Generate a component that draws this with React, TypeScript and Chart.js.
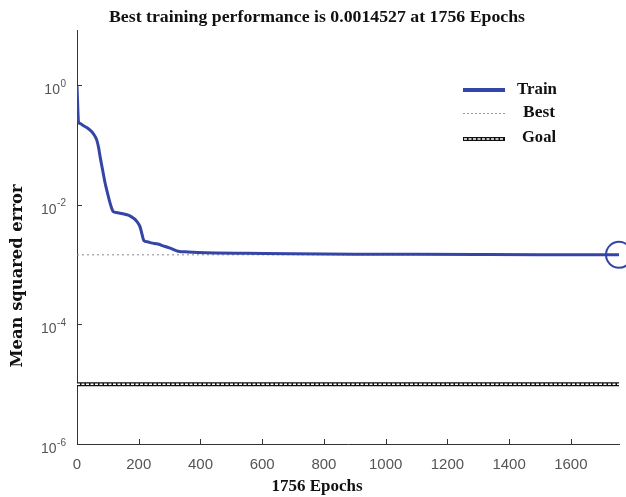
import React, { useEffect, useRef } from "react";
import { Chart, registerables } from "chart.js";

Chart.register(...registerables);

const epochs = [0, 2, 5, 12, 20, 35, 48, 58, 64, 70, 75, 83, 91, 99, 107, 113, 118, 128, 140, 152, 166, 178, 188, 197, 204, 210, 217, 228, 240, 262, 285, 304, 327, 360, 391, 450, 551, 700, 900, 1100, 1300, 1500, 1756];
const trainMse = [1.0, 0.5, 0.24, 0.225, 0.21, 0.19, 0.166, 0.14, 0.12, 0.09, 0.063, 0.038, 0.023, 0.0155, 0.0107, 0.0085, 0.0076, 0.0074, 0.0072, 0.0070, 0.0067, 0.0062, 0.0057, 0.005, 0.0043, 0.0033, 0.0025, 0.0024, 0.0023, 0.0022, 0.002, 0.00186, 0.00167, 0.00162, 0.00159, 0.00156, 0.00154, 0.00151, 0.00149, 0.00148, 0.00147, 0.00146, 0.0014527];
const bestEpoch = 1756;
const bestValue = 0.0014527;
const goalValue = 1e-5;
const xTicks = [0, 200, 400, 600, 800, 1000, 1200, 1400, 1600];
const yTickExponents = [0, -2, -4, -6];
const titleText = "Best training performance is 0.0014527 at 1756 Epochs";
const xTitle = "1756 Epochs";
const yTitle = "Mean squared error";
const legendLabels = ["Train", "Best", "Goal"];

const BLUE = "#3545a6";
const SERIF = '"Liberation Serif", "Times New Roman", serif';

function drawFit(ctx: CanvasRenderingContext2D, text: string, x: number, y: number, w: number, font: string, align: "left" | "center") {
  ctx.save();
  ctx.font = font;
  ctx.fillStyle = "#111";
  ctx.textBaseline = "middle";
  ctx.textAlign = "left";
  const m = ctx.measureText(text).width;
  const s = w / m;
  const left = align === "center" ? x - w / 2 : x;
  ctx.translate(left, y);
  ctx.scale(s, 1);
  ctx.fillText(text, 0, 0);
  ctx.restore();
}

const decorPlugin = {
  id: "decor",
  afterDraw(chart: any) {
    const ctx: CanvasRenderingContext2D = chart.ctx;
    const xs = chart.scales.x;
    const ys = chart.scales.y;
    const area = chart.chartArea;
    ctx.save();
    ctx.strokeStyle = "#333";
    ctx.lineWidth = 1;
    xs.ticks.forEach((t: any) => {
      const px = Math.round(xs.getPixelForValue(t.value)) + 0.5;
      ctx.beginPath();
      ctx.moveTo(px, area.bottom);
      ctx.lineTo(px, area.bottom - 5);
      ctx.stroke();
    });
    ys.ticks.forEach((t: any) => {
      const py = Math.round(ys.getPixelForValue(t.value)) + 0.5;
      ctx.beginPath();
      ctx.moveTo(area.left, py);
      ctx.lineTo(area.left + 5, py);
      ctx.stroke();
    });
    ctx.fillStyle = "#555";
    ctx.textBaseline = "middle";
    yTickExponents.forEach((e) => {
      const py = ys.getPixelForValue(Math.pow(10, e));
      const exp = e === 0 ? "0" : "-" + Math.abs(e);
      ctx.font = '10px "Liberation Sans", Arial, sans-serif';
      const ew = ctx.measureText(exp).width;
      const right = area.left - 11;
      ctx.textAlign = "right";
      ctx.fillText(exp, right, py - 1);
      ctx.font = '14px "Liberation Sans", Arial, sans-serif';
      ctx.fillText("10", right - ew - 0.5, py + 5);
    });
    ctx.restore();

    drawFit(ctx, titleText, 317, 18, 416, "bold 17px " + SERIF, "center");
    drawFit(ctx, xTitle, 317, 487, 91, "bold 17px " + SERIF, "center");
    ctx.save();
    ctx.translate(18, 276);
    ctx.rotate(-Math.PI / 2);
    drawFit(ctx, yTitle, 0, 0, 183, 'bold 16px "DejaVu Serif", serif', "center");
    ctx.restore();

    ctx.save();
    const lx0 = 463, lx1 = 505;
    ctx.strokeStyle = BLUE;
    ctx.lineWidth = 4;
    ctx.beginPath(); ctx.moveTo(lx0, 90); ctx.lineTo(lx1, 90); ctx.stroke();
    ctx.strokeStyle = "#999";
    ctx.lineWidth = 1;
    ctx.setLineDash([2, 2]);
    ctx.beginPath(); ctx.moveTo(lx0, 113.5); ctx.lineTo(lx1, 113.5); ctx.stroke();
    ctx.setLineDash([]);
    ctx.strokeStyle = "#111";
    ctx.lineWidth = 4;
    ctx.beginPath(); ctx.moveTo(lx0, 139); ctx.lineTo(lx1, 139); ctx.stroke();
    ctx.strokeStyle = "#fff";
    ctx.lineWidth = 1.5;
    ctx.setLineDash([3, 1.5]);
    ctx.beginPath(); ctx.moveTo(lx0 + 1, 139); ctx.lineTo(lx1 - 1, 139); ctx.stroke();
    ctx.restore();
    drawFit(ctx, legendLabels[0], 517, 90, 40, "bold 17px " + SERIF, "left");
    drawFit(ctx, legendLabels[1], 523, 113, 32, "bold 17px " + SERIF, "left");
    drawFit(ctx, legendLabels[2], 522, 138, 34, "bold 17px " + SERIF, "left");
  },
};

export default function App() {
  const ref = useRef<HTMLCanvasElement | null>(null);
  useEffect(() => {
    document.body.style.margin = "0";
    const canvas = ref.current;
    if (!canvas) return;
    const trainData = epochs.map((e, i) => ({ x: e, y: trainMse[i] }));
    const bestLine = [{ x: 0, y: bestValue }, { x: bestEpoch, y: bestValue }];
    const goalLine = [{ x: 0, y: goalValue }, { x: bestEpoch, y: goalValue }];
    const chart = new Chart(canvas, {
      type: "line",
      data: {
        datasets: [
          {
            label: "BestMarker",
            data: [{ x: bestEpoch, y: bestValue }],
            showLine: false,
            pointRadius: 13,
            pointBorderWidth: 2,
            pointBorderColor: BLUE,
            pointBackgroundColor: "rgba(0,0,0,0)",
            clip: false,
          } as any,
          {
            label: "Train",
            data: trainData,
            borderColor: BLUE,
            borderWidth: 3,
            pointRadius: 0,
            cubicInterpolationMode: "monotone",
          },
          {
            label: "Best",
            data: bestLine,
            borderColor: "#8a8a8a",
            borderWidth: 1,
            borderDash: [2, 3],
            pointRadius: 0,
          },
          {
            label: "GoalInner",
            data: goalLine,
            borderColor: "#fff",
            borderWidth: 1.5,
            borderDash: [3, 1.5],
            pointRadius: 0,
          },
          {
            label: "Goal",
            data: goalLine,
            borderColor: "#111",
            borderWidth: 4,
            pointRadius: 0,
          },
        ],
      },
      options: {
        animation: false,
        responsive: false,
        events: [],
        layout: { autoPadding: false, padding: { top: 30, right: 7, left: 0, bottom: 0 } },
        plugins: { legend: { display: false }, title: { display: false }, tooltip: { enabled: false } },
        scales: {
          x: {
            type: "linear",
            min: 0,
            max: bestEpoch,
            afterBuildTicks: (s: any) => { s.ticks = xTicks.map((v) => ({ value: v })); },
            afterFit: (s: any) => { s.height = 53; },
            grid: { display: false, drawTicks: false },
            border: { display: true, color: "#333", width: 1 },
            ticks: {
              padding: 12,
              color: "#555",
              font: { family: '"Liberation Sans", Arial, sans-serif', size: 15 },
              maxRotation: 0,
              autoSkip: false,
              callback: (v: any) => String(v),
            },
          },
          y: {
            type: "logarithmic",
            min: 1e-6,
            max: Math.pow(10, 0.92),
            afterBuildTicks: (s: any) => { s.ticks = yTickExponents.map((e) => ({ value: Math.pow(10, e) })); },
            afterFit: (s: any) => { s.width = 77; },
            grid: { display: false, drawTicks: false },
            border: { display: true, color: "#333", width: 1 },
            ticks: { display: false },
          },
        },
      },
      plugins: [decorPlugin],
    });
    return () => chart.destroy();
  }, []);
  return (
    <div style={{ width: 626, height: 497, background: "#fff" }}>
      <canvas ref={ref} width={626} height={497} style={{ display: "block" }} />
    </div>
  );
}
